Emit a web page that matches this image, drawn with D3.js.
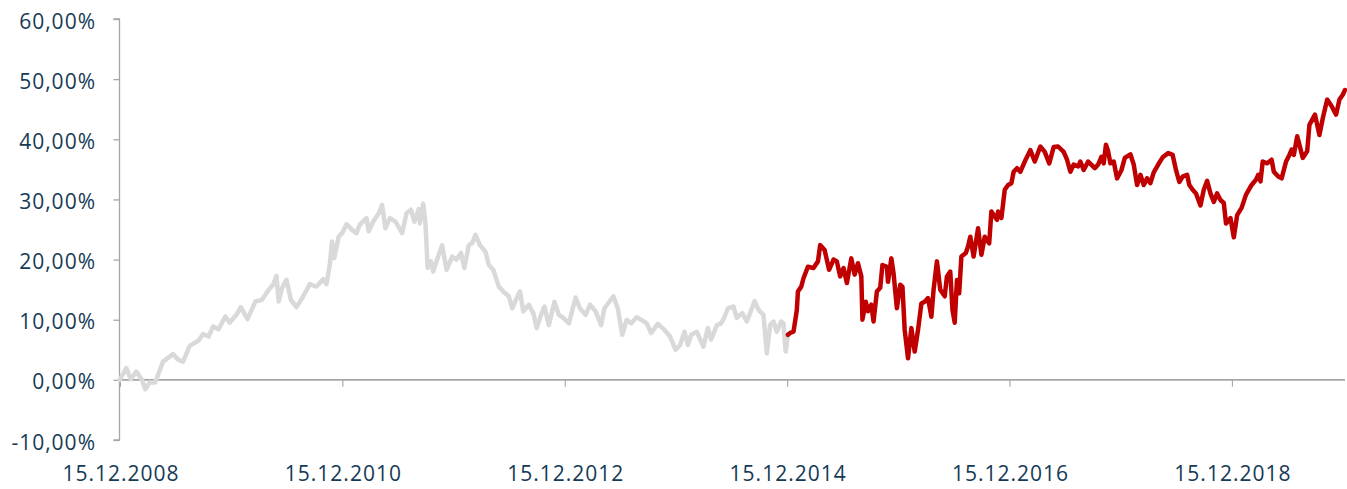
<!DOCTYPE html>
<html>
<head>
<meta charset="utf-8">
<script src="https://cdn.jsdelivr.net/npm/d3@7"></script>
<style>
  html, body { margin: 0; padding: 0; background: #ffffff; }
  svg { display: block; }
  .lbl { font-family: "Open Sans", sans-serif; font-size: 21px; fill: #153a55; letter-spacing: 1px; }
</style>
</head>
<body>
<svg id="chart" width="1347" height="489"></svg>
<script>
// ---- data (decimal years, performance in %) ----
const grayYears = [2008.95,2009.01,2009.05,2009.10,2009.15,2009.18,2009.22,2009.27,2009.34,2009.43,2009.48,2009.52,2009.58,2009.66,2009.70,2009.75,2009.79,2009.84,2009.90,2009.94,2010.00,2010.04,2010.10,2010.17,2010.23,2010.29,2010.33,2010.36,2010.38,2010.41,2010.45,2010.49,2010.54,2010.60,2010.66,2010.72,2010.78,2010.81,2010.84,2010.86,2010.88,2010.92,2010.95,2010.99,2011.04,2011.08,2011.11,2011.17,2011.19,2011.23,2011.28,2011.31,2011.34,2011.38,2011.43,2011.49,2011.53,2011.57,2011.60,2011.64,2011.65,2011.68,2011.70,2011.72,2011.75,2011.77,2011.80,2011.85,2011.89,2011.94,2011.98,2012.02,2012.05,2012.09,2012.12,2012.15,2012.19,2012.24,2012.27,2012.31,2012.36,2012.40,2012.45,2012.48,2012.52,2012.55,2012.58,2012.63,2012.67,2012.70,2012.74,2012.77,2012.81,2012.86,2012.90,2012.94,2012.99,2013.05,2013.09,2013.14,2013.18,2013.23,2013.28,2013.31,2013.39,2013.43,2013.47,2013.51,2013.55,2013.60,2013.64,2013.69,2013.73,2013.79,2013.85,2013.90,2013.95,2013.99,2014.03,2014.06,2014.09,2014.14,2014.20,2014.24,2014.27,2014.32,2014.36,2014.39,2014.42,2014.47,2014.50,2014.55,2014.59,2014.63,2014.66,2014.70,2014.74,2014.77,2014.80,2014.83,2014.86,2014.90,2014.92,2014.94,2014.96];
const grayValues = [0.0,1.95,0.1,1.38,0.0,-1.55,-0.45,-0.45,3.04,4.27,3.33,3.04,5.65,6.54,7.6,7.2,8.87,8.43,10.53,9.53,10.81,12.09,10.09,13.02,13.3,14.97,15.8,17.3,13.02,15.24,16.63,13.3,12.09,13.86,15.91,15.52,16.74,15.91,19.12,23.0,20.24,23.83,24.39,25.89,24.94,24.39,25.8,26.9,24.7,26.3,27.7,29.1,25.2,26.9,26.3,24.4,27.7,28.3,26.3,28.4,26.0,29.3,26.0,18.6,19.7,18.0,19.7,22.4,18.3,20.5,20.0,21.1,18.6,22.4,22.7,24.1,22.4,21.3,19.1,18.3,15.5,14.7,13.9,11.9,13.6,14.7,11.4,12.5,11.1,8.6,10.8,12.2,9.1,13.0,10.8,10.3,9.4,13.7,11.9,10.8,12.5,11.4,9.1,11.9,13.9,11.9,7.5,10.0,9.4,10.4,10.0,9.4,7.8,9.3,8.3,7.2,5.0,5.8,8.0,5.8,7.5,8.0,5.5,8.6,6.7,9.1,9.4,10.5,11.9,12.2,10.3,11.1,9.7,11.6,13.1,11.5,10.8,4.4,9.1,9.7,8.0,9.7,9.4,4.7,7.5];

const redYears = [2014.96,2014.98,2015.01,2015.04,2015.05,2015.08,2015.10,2015.14,2015.19,2015.23,2015.25,2015.29,2015.33,2015.37,2015.40,2015.43,2015.46,2015.49,2015.53,2015.56,2015.59,2015.62,2015.63,2015.66,2015.68,2015.71,2015.73,2015.76,2015.79,2015.81,2015.85,2015.86,2015.89,2015.91,2015.94,2015.97,2015.99,2016.01,2016.04,2016.07,2016.10,2016.13,2016.16,2016.19,2016.22,2016.25,2016.27,2016.30,2016.33,2016.37,2016.39,2016.42,2016.44,2016.46,2016.48,2016.50,2016.52,2016.56,2016.58,2016.60,2016.63,2016.67,2016.70,2016.73,2016.77,2016.79,2016.84,2016.85,2016.88,2016.91,2016.94,2016.97,2016.99,2017.02,2017.05,2017.09,2017.14,2017.18,2017.23,2017.27,2017.31,2017.35,2017.39,2017.44,2017.47,2017.50,2017.53,2017.57,2017.59,2017.62,2017.66,2017.72,2017.75,2017.78,2017.80,2017.82,2017.84,2017.86,2017.89,2017.92,2017.96,2017.99,2018.04,2018.07,2018.10,2018.13,2018.16,2018.19,2018.22,2018.25,2018.29,2018.33,2018.38,2018.42,2018.45,2018.48,2018.51,2018.55,2018.57,2018.60,2018.63,2018.67,2018.70,2018.73,2018.76,2018.79,2018.82,2018.85,2018.88,2018.90,2018.94,2018.97,2019.00,2019.04,2019.08,2019.13,2019.17,2019.19,2019.21,2019.23,2019.27,2019.31,2019.33,2019.37,2019.40,2019.44,2019.47,2019.49,2019.51,2019.54,2019.56,2019.59,2019.63,2019.65,2019.70,2019.74,2019.77,2019.81,2019.85,2019.89,2019.92,2019.95,2019.97];
const redValues = [7.5,7.8,8.0,11.6,14.7,15.5,16.9,18.8,18.6,19.7,22.4,21.6,18.3,20.0,19.7,17.2,18.6,16.1,20.2,17.5,19.4,17.2,10.0,13.0,11.4,12.5,9.7,14.7,15.3,19.1,18.8,16.3,20.2,17.7,11.9,15.8,15.5,8.3,3.6,8.6,4.7,8.3,12.7,13.0,13.6,10.5,15.0,19.7,15.0,13.9,17.2,18.0,11.6,9.5,16.6,14.4,20.5,21.1,22.2,23.8,20.5,25.2,20.8,23.8,22.7,28.0,26.6,28.0,26.9,31.6,32.4,32.7,34.6,35.2,34.6,36.3,38.2,36.3,38.8,37.9,36.0,38.7,38.8,37.9,36.6,34.6,35.8,35.5,36.3,34.9,36.3,35.2,35.8,37.1,36.0,39.1,38.0,36.0,36.3,33.5,34.9,36.9,37.5,35.8,32.4,34.1,32.4,33.5,32.7,34.5,35.8,37.0,37.7,37.4,34.9,32.9,33.8,34.1,32.4,31.6,31.0,29.0,31.6,33.1,31.0,29.6,31.0,29.9,29.4,26.0,26.9,23.7,27.4,28.6,30.8,32.4,33.3,34.1,33.0,36.3,36.0,36.6,34.6,33.8,33.5,36.3,37.4,38.3,37.4,40.5,39.1,36.9,38.0,42.4,44.1,40.7,43.5,46.6,45.5,44.1,46.6,47.4,48.2];

const yTicks = [-10, 0, 10, 20, 30, 40, 50, 60];
const yTickLabels = ["-10,00%", "0,00%", "10,00%", "20,00%", "30,00%", "40,00%", "50,00%", "60,00%"];
const xTickYears = [2008.953, 2010.953, 2012.953, 2014.953, 2016.953, 2018.953];
const xTickLabels = ["15.12.2008", "15.12.2010", "15.12.2012", "15.12.2014", "15.12.2016", "15.12.2018"];

// ---- drawing ----
const svg = d3.select("#chart");
const x = d3.scaleLinear().domain([2008.953, 2019.97]).range([120, 1345]);
const y = d3.scaleLinear().domain([-10, 60]).range([440, 19]);
const axisColor = "#a6a6a6";

// vertical axis
const yAxis = svg.append("g").attr("transform", "translate(119.5,0)")
  .call(d3.axisLeft(y).tickValues(yTicks).tickSize(6).tickFormat(""));
yAxis.select(".domain").attr("stroke", axisColor).attr("stroke-width", 1.3).attr("d", `M-6,${y(60)}H0V${y(-10)}H-6`);
yAxis.selectAll(".tick line").attr("stroke", axisColor).attr("stroke-width", 1.3);

// y labels
svg.append("g").selectAll("text").data(yTicks).join("text")
  .attr("class", "lbl")
  .attr("x", 96)
  .attr("y", d => y(d) + 1.5)
  .attr("text-anchor", "end")
  .attr("dominant-baseline", "central")
  .text((d, i) => yTickLabels[i]);

// horizontal axis at zero
const xAxis = svg.append("g").attr("transform", `translate(0,${y(0)})`)
  .call(d3.axisBottom(x).tickValues(xTickYears).tickSize(7).tickFormat(""));
xAxis.select(".domain").attr("stroke", axisColor).attr("stroke-width", 1.8).attr("d", `M${x.range()[0]},0H${x.range()[1]}`);
xAxis.selectAll(".tick line").attr("stroke", axisColor).attr("stroke-width", 1.1);

// x labels
svg.append("g").selectAll("text").data(xTickYears).join("text")
  .attr("class", "lbl")
  .attr("x", d => x(d) + 1)
  .attr("y", 481)
  .attr("text-anchor", "middle")
  .text((d, i) => xTickLabels[i]);

// lines
const line = d3.line().x(d => x(d[0])).y(d => y(d[1]));
svg.append("path")
  .datum(d3.zip(grayYears, grayValues))
  .attr("fill", "none").attr("stroke", "#d9d9d9").attr("stroke-width", 4.5)
  .attr("stroke-linejoin", "round").attr("stroke-linecap", "round")
  .attr("d", line);
svg.append("path")
  .datum(d3.zip(redYears, redValues))
  .attr("fill", "none").attr("stroke", "#c00000").attr("stroke-width", 4.5)
  .attr("stroke-linejoin", "round").attr("stroke-linecap", "round")
  .attr("d", line);
</script>
</body>
</html>
